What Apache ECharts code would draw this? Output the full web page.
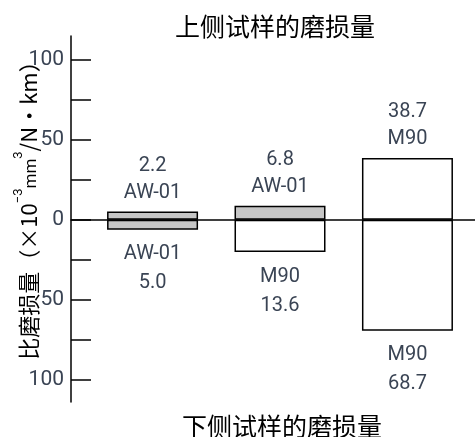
<!DOCTYPE html>
<html>
<head>
<meta charset="utf-8">
<script src="https://cdn.jsdelivr.net/npm/echarts@6/dist/echarts.min.js"></script>
<style>
  html, body { margin: 0; padding: 0; background: #fff; }
  #chart { width: 475px; height: 437px; }
</style>
</head>
<body>
<div id="chart"></div>
<script>
// upper specimen (drawn above zero) / lower specimen (drawn below zero)
const upperMaterials = ['AW-01', 'AW-01', 'M90'];
const upperValues = ['2.2', '6.8', '38.7'];
const upperHeights = [5.2, 8.8, 38.7];   // bar heights as drawn in the picture
const lowerMaterials = ['AW-01', 'M90', 'M90'];
const lowerValues = ['5.0', '13.6', '68.7'];
const lowerHeights = [-6.2, -20.2, -69.4];
const upperFilled = [true, true, false];
const lowerFilled = [true, false, false];
const tickValues = [-100, -75, -50, -25, 0, 25, 50, 75, 100];
const labelValues = [-100, -50, 0, 50, 100];

const GRAY = '#c6c6c6';
const TEXT = '#3a4454';
const LATIN = 'Roboto, "Liberation Sans", sans-serif';
const CJK = '"Noto Sans CJK SC", sans-serif';

const chart = echarts.init(document.getElementById('chart'));

const barStyle = (filled) => ({
  color: filled ? GRAY : '#fff',
  borderColor: '#000',
  borderWidth: 1.5
});

const option = {
  animation: false,
  title: [
    {
      text: '上侧试样的磨损量',
      left: 170, top: 9,
      textStyle: { fontFamily: CJK, fontSize: 25, fontWeight: 'normal', color: '#000' }
    },
    {
      text: '下侧试样的磨损量',
      left: 177, top: 409,
      textStyle: { fontFamily: CJK, fontSize: 25, fontWeight: 'normal', color: '#000' }
    }
  ],
  graphic: [
    {
      type: 'text',
      x: 26, y: 205,
      rotation: Math.PI / 2,
      style: {
        text: '{m|比磨损量（×10}{s|−3}{n|mm}{s|3}{m|/N・km）}',
        align: 'center',
        verticalAlign: 'middle',
        rich: {
          m: { fontFamily: CJK, fontSize: 22, color: '#000', lineHeight: 28, verticalAlign: 'bottom' },
          n: { fontFamily: LATIN, fontSize: 17, color: '#000', lineHeight: 28, verticalAlign: 'bottom' },
          s: { fontFamily: LATIN, fontSize: 13, color: '#000', lineHeight: 28, verticalAlign: 'top' }
        }
      }
    }
  ],
  grid: { left: 71, right: 0, top: 36, bottom: 35 },
  xAxis: {
    type: 'value',
    min: -0.64,
    max: 2.53,
    splitLine: { show: false },
    axisTick: { show: false },
    axisLabel: { show: false },
    axisLine: { onZero: true, lineStyle: { color: '#000', width: 1.5 } }
  },
  yAxis: {
    type: 'value',
    min: -114,
    max: 115,
    splitLine: { show: false },
    axisLine: { show: true, onZero: false, lineStyle: { color: '#000', width: 1.5 } },
    axisTick: {
      show: true,
      inside: true,
      length: 20,
      customValues: tickValues,
      lineStyle: { color: '#000', width: 1.5 }
    },
    axisLabel: {
      customValues: labelValues,
      margin: 7,
      fontFamily: LATIN,
      fontSize: 21,
      color: TEXT,
      formatter: (v) => String(Math.abs(v))
    }
  },
  series: [
    {
      name: 'upper',
      type: 'bar',
      barWidth: 91,
      barGap: '-100%',
      data: upperHeights.map((h, i) => ({
        value: [i, h],
        itemStyle: barStyle(upperFilled[i])
      })),
      label: {
        show: true,
        position: 'top',
        distance: 5,
        fontFamily: LATIN,
        fontSize: 20,
        lineHeight: 27,
        color: TEXT,
        formatter: (p) => upperValues[p.dataIndex] + '\n' + upperMaterials[p.dataIndex]
      }
    },
    {
      name: 'lower',
      type: 'bar',
      barWidth: 91,
      barGap: '-100%',
      data: lowerHeights.map((h, i) => ({
        value: [i, h],
        itemStyle: barStyle(lowerFilled[i])
      })),
      label: {
        show: true,
        position: 'bottom',
        distance: 10,
        fontFamily: LATIN,
        fontSize: 20,
        lineHeight: 29,
        color: TEXT,
        formatter: (p) => lowerMaterials[p.dataIndex] + '\n' + lowerValues[p.dataIndex]
      }
    }
  ]
};

chart.setOption(option);
</script>
</body>
</html>
